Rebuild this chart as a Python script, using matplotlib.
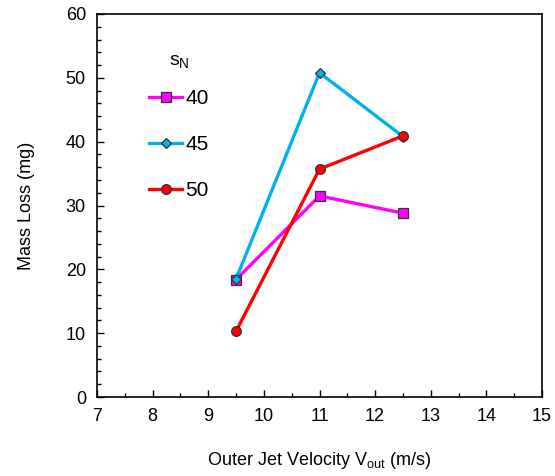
import matplotlib.pyplot as plt
from matplotlib.ticker import MultipleLocator

plt.rcParams['font.family'] = ['Liberation Sans', 'DejaVu Sans']
plt.rcParams['mathtext.default'] = 'regular'

velocity = [9.5, 11, 12.5]
loss_40 = [18.4, 31.5, 28.8]
loss_45 = [18.5, 50.8, 40.8]
loss_50 = [10.3, 35.7, 40.9]

fig = plt.figure(figsize=(5.55, 4.76), dpi=100)
ax = fig.add_axes([97/555, 79/476, 445/555, 383/476])

ax.plot(velocity, loss_40, color='#FF00FF', lw=2.4, marker='s', ms=7,
        mfc='#FF00FF', mec='#333333', mew=0.9, label='40')
ax.plot(velocity, loss_45, color='#00B0F0', lw=2.4, marker='D', ms=5,
        mfc='#00B0F0', mec='#333333', mew=0.9, label='45')
ax.plot(velocity, loss_50, color='#FF0000', lw=2.4, marker='o', ms=7,
        mfc='#FF0000', mec='#333333', mew=0.9, label='50')

ax.set_xlim(7, 15)
ax.set_ylim(0, 60)
ax.xaxis.set_major_locator(MultipleLocator(1))
ax.xaxis.set_minor_locator(MultipleLocator(0.5))
ax.yaxis.set_major_locator(MultipleLocator(10))
ax.yaxis.set_minor_locator(MultipleLocator(2))
ax.tick_params(which='both', direction='in', top=False, right=False, labelsize=13, width=1)
ax.tick_params(which='major', length=5, pad=8)
ax.tick_params(which='minor', length=3)
for s in ax.spines.values():
    s.set_linewidth(1.2)

ax.set_xlabel('Outer Jet Velocity V$_{out}$ (m/s)', fontsize=13, labelpad=18)
ax.set_ylabel('Mass Loss (mg)', fontsize=13, labelpad=22)

leg = ax.legend(frameon=False, loc='upper left',
                bbox_to_anchor=(0.075, 0.853), fontsize=15,
                handlelength=1.6, handletextpad=0.15, labelspacing=1.3)
ax.text(0.185, 0.875, 's$_N$', transform=ax.transAxes, fontsize=14,
        ha='center', va='center')

fig.savefig('out.png', dpi=100)
